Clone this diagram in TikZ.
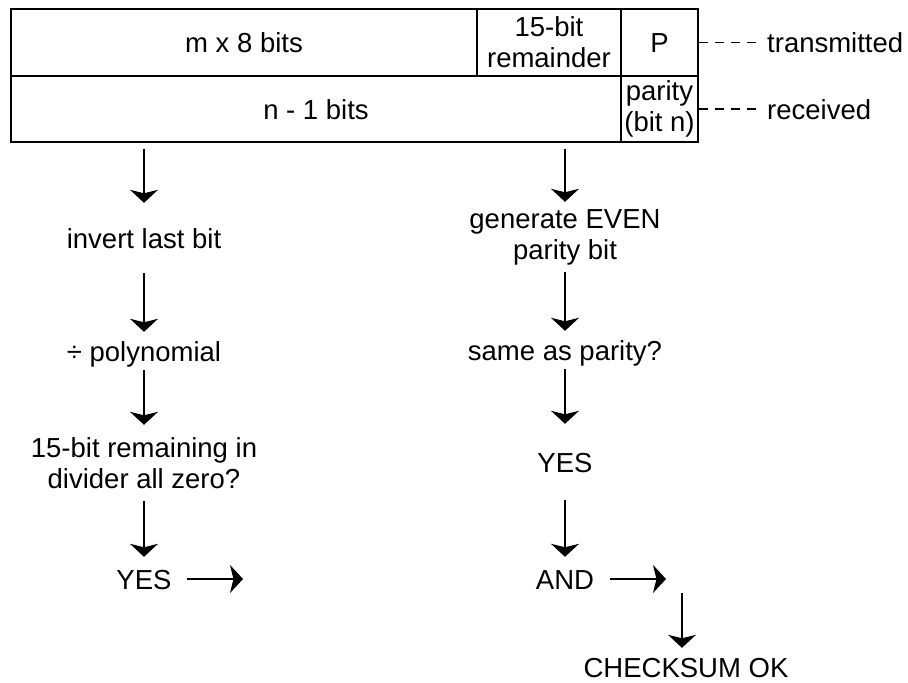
\documentclass[tikz,border=0pt]{standalone}
\usepackage{fontspec}
\setmainfont{Liberation Sans}
\usetikzlibrary{arrows.meta}

\tikzset{
  every node/.style={font=\fontsize{27.5}{31}\selectfont},
  flow/.style={-{Stealth[length=13pt,width=28pt,inset=3.5pt]}, line width=1.2pt},
  dashline/.style={line width=1.2pt, dash pattern=on 9pt off 7pt},
  cell/.style={draw, line width=1.5pt},
  txt/.style={inner sep=0pt, text height=25pt, text depth=5pt},
  txtt/.style={inner sep=0pt, align=center},
}

\begin{document}
\begin{tikzpicture}[x=1pt,y=-1pt]
  \useasboundingbox (0,0) rectangle (908,683);

  % the frame: transmitted row, received row
  \node[cell, txt, minimum width=466pt, minimum height=67pt] (mbits) at (244,42.5) {m x 8 bits};
  \node[cell, txtt, minimum width=144pt, minimum height=67pt] (remd) at (549,42.5) {15-bit\\remainder};
  \node[cell, txt, minimum width=77pt, minimum height=67pt] (pcell) at (659.5,42.5) {P};
  \node[cell, txt, minimum width=610pt, minimum height=66pt] (nbits) at (316,109) {n - 1 bits};
  \node[cell, txtt, minimum width=77pt, minimum height=66pt] (par) at (659.5,109) {parity\\(bit n)};

  \node[txt, anchor=west, inner xsep=10pt] (trans) at (757,42.5) {transmitted};
  \node[txt, anchor=west, inner xsep=10pt] (recv) at (757,109) {received};
  \draw[dashline] (pcell) -- (trans);
  \draw[dashline] (par) -- (recv);

  % remainder check
  \node[txt, minimum height=70pt] (inv) at (144,238) {invert last bit};
  \node[txt, minimum height=38pt] (poly) at (144,351) {÷ polynomial};
  \node[txtt, minimum height=76pt] (rem) at (144,463) {15-bit remaining in\\divider all zero?};
  \node[txt, minimum height=44pt, inner xsep=15pt] (yesL) at (144,579) {YES};

  % parity check
  \node[txtt, minimum height=70pt] (gen) at (565,237) {generate EVEN\\parity bit};
  \node[txt, minimum height=38pt] (same) at (565,350) {same as parity?};
  \node[txt, minimum height=76pt] (yesR) at (565,462) {YES};
  \node[txt, minimum height=44pt, inner xsep=16pt] (andN) at (565,579) {AND};
  \node[txt, minimum height=38pt] (ok) at (686,667) {CHECKSUM OK};

  \draw[flow, shorten <=6pt] (inv |- nbits.south) -- (inv);
  \draw[flow, shorten <=6pt] (gen |- nbits.south) -- (gen);
  \foreach \a/\b in {inv/poly, poly/rem, rem/yesL, gen/same, same/yesR, yesR/andN}
    \draw[flow] (\a) -- (\b);

  \coordinate (yesEnd) at (243,579);
  \coordinate (andEnd) at (666,579);
  \coordinate (okFrom) at (682,593);
  \draw[flow] (yesL) -- (yesEnd);
  \draw[flow] (andN) -- (andEnd);
  \draw[flow] (okFrom) -- (okFrom |- ok.north);
\end{tikzpicture}
\end{document}
